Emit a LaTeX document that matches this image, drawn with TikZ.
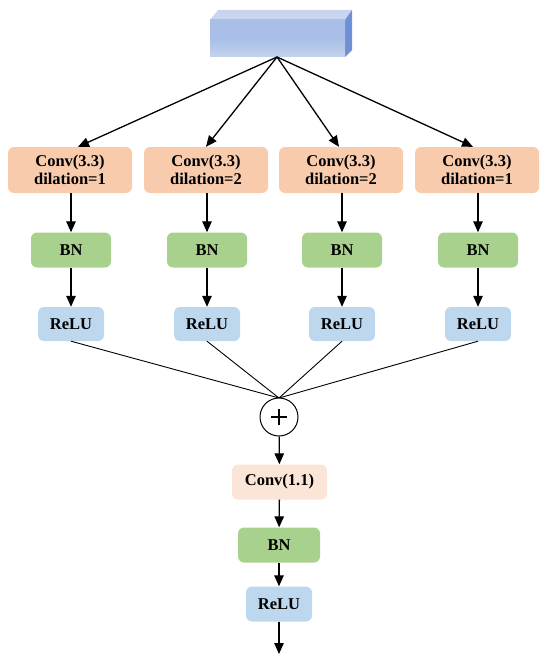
\documentclass[tikz,border=0pt]{standalone}
\usepackage{fontspec}
\setmainfont{Liberation Serif}
\usetikzlibrary{arrows.meta,calc}
\definecolor{convc}{HTML}{F8CBAD}
\definecolor{convl}{HTML}{FBE5D6}
\definecolor{bnc}{HTML}{A9D18E}
\definecolor{reluc}{HTML}{BDD7EE}
\definecolor{frontc}{HTML}{AABFE7}
\definecolor{topc}{HTML}{C9D5EF}
\definecolor{sidec}{HTML}{6F90D4}
\tikzset{
  box/.style={rounded corners=6pt, inner sep=0pt, align=center, font=\fontsize{16.5}{18}\selectfont\bfseries},
  convbox/.style={box, fill=convc, minimum width=124pt, minimum height=46pt},
  bnbox/.style={box, fill=bnc, minimum width=80pt, minimum height=35pt},
  relubox/.style={box, fill=reluc, minimum width=66pt, minimum height=34pt},
  arr/.style={line width=1.3pt, -{Triangle[length=11pt,width=9.5pt]}},
  thin/.style={line width=0.9pt}
}
\begin{document}
\begin{tikzpicture}[x=1pt,y=-1pt]
\useasboundingbox (0,0) rectangle (550,661);
% block
\fill[topc] (210,20) -- (218,10) -- (352,10) -- (345,20) -- cycle;
\fill[sidec] (345,20) -- (352,10) -- (352,50) -- (345,57) -- cycle;
\shade[top color=frontc, bottom color=frontc!70!white, middle color=frontc] (210,20) rectangle (345,57);
\coordinate (apex) at (277,57);
% conv boxes
\node[convbox] (c1) at (70,170) {Conv(3.3)\\dilation=1};
\node[convbox] (c2) at (206,170) {Conv(3.3)\\dilation=2};
\node[convbox] (c3) at (341,170) {Conv(3.3)\\dilation=2};
\node[convbox] (c4) at (477,170) {Conv(3.3)\\dilation=1};
\foreach \i in {1,2,3,4}{
  \node[bnbox] (b\i) at ($(c\i)+(1,80)$) {BN};
  \node[relubox] (r\i) at ($(c\i)+(1,154)$) {ReLU};
  \draw[arr] (c\i.south) ++(1,0) -- (b\i.north);
  \draw[arr] (b\i) -- (r\i);
}
\draw[arr] (apex) -- ($(c1.north)+(8,0)$);
\draw[arr] (apex) -- ($(c2.north)+(0,0)$);
\draw[arr] (apex) -- ($(c3.north)+(-2,0)$);
\draw[arr] (apex) -- ($(c4.north)+(-4,0)$);
% plus
\foreach \i in {1,2,3,4}{
  \draw[thin] (r\i.south) -- (279,398);
}
\node[circle, draw, line width=1pt, minimum size=38pt, inner sep=0pt, fill=white] (plus) at (279,417) {};
\draw[line width=1.6pt] ($(plus)+(-8,0)$) -- ($(plus)+(8,0)$) ($(plus)+(0,-8)$) -- ($(plus)+(0,8)$);
\node[box, fill=convl, minimum width=95pt, minimum height=35pt] (c5) at (279.5,482) {Conv(1.1)};
\node[bnbox, minimum width=82pt] (b5) at (279,545) {BN};
\node[relubox, minimum height=35pt] (r5) at (279,604) {ReLU};
\coordinate (out) at (279,654);
\draw[arr] (plus) -- (c5);
\draw[arr] (c5) -- (b5);
\draw[arr] (b5) -- (r5);
\draw[arr] (r5) -- (out);
\end{tikzpicture}
\end{document}
